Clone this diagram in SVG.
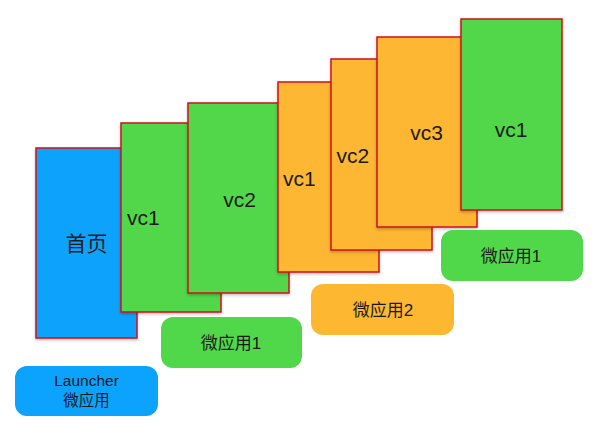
<svg xmlns="http://www.w3.org/2000/svg" width="600" height="434" viewBox="0 0 600 434">
<defs>
<style>
.card{stroke:#d0121b;stroke-width:1.5;filter:url(#sh)}
.blue{fill:#0ba3fd}
.green{fill:#51d74a}
.orange{fill:#fdb730}
.t{font-family:"Liberation Sans","Noto Sans CJK SC",sans-serif;fill:#1a1a1a}
.big{font-size:21px}
.lab{font-size:17px}
.small{font-size:15.5px}
</style>
<filter id="sh" x="-10%" y="-10%" width="130%" height="130%">
<feDropShadow dx="0" dy="1.5" stdDeviation="1.5" flood-color="#000" flood-opacity="0.25"/>
</filter>
</defs>
<g id="home"><rect class="card blue" x="36" y="148" width="101" height="190"/><text class="t big" x="86.5" y="251" text-anchor="middle">首页</text></g>
<g id="app1-vc1"><rect class="card green" x="121" y="123" width="100" height="189"/><text class="t big" x="127" y="225">vc1</text></g>
<g id="app1-vc2"><rect class="card green" x="188" y="103" width="101" height="190"/><text class="t big" x="239.5" y="207" text-anchor="middle">vc2</text></g>
<g id="app2-vc1"><rect class="card orange" x="278" y="82" width="101" height="190"/><text class="t big" x="283" y="186">vc1</text></g>
<g id="app2-vc2"><rect class="card orange" x="331" y="59" width="101" height="191"/><text class="t big" x="336.5" y="163">vc2</text></g>
<g id="app2-vc3"><rect class="card orange" x="377" y="37" width="100" height="190"/><text class="t big" x="426.7" y="140" text-anchor="middle">vc3</text></g>
<g id="app1b-vc1"><rect class="card green" x="461" y="19" width="101" height="191"/><text class="t big" x="511" y="137" text-anchor="middle">vc1</text></g>
<g id="label-launcher"><rect class="blue" x="15" y="366" width="143" height="50" rx="12"/><text class="t small" x="86.5" y="386" text-anchor="middle">Launcher</text><text class="t small" x="86.5" y="406" text-anchor="middle">微应用</text></g>
<g id="label-app1"><rect class="green" x="161" y="317" width="141" height="51" rx="12"/><text class="t lab" x="231" y="349" text-anchor="middle">微应用1</text></g>
<g id="label-app2"><rect class="orange" x="311" y="284" width="143" height="51" rx="12"/><text class="t lab" x="383" y="316" text-anchor="middle">微应用2</text></g>
<g id="label-app1b"><rect class="green" x="441" y="230" width="142" height="51" rx="12"/><text class="t lab" x="511" y="262" text-anchor="middle">微应用1</text></g>
<g id="connectors"></g>
</svg>
